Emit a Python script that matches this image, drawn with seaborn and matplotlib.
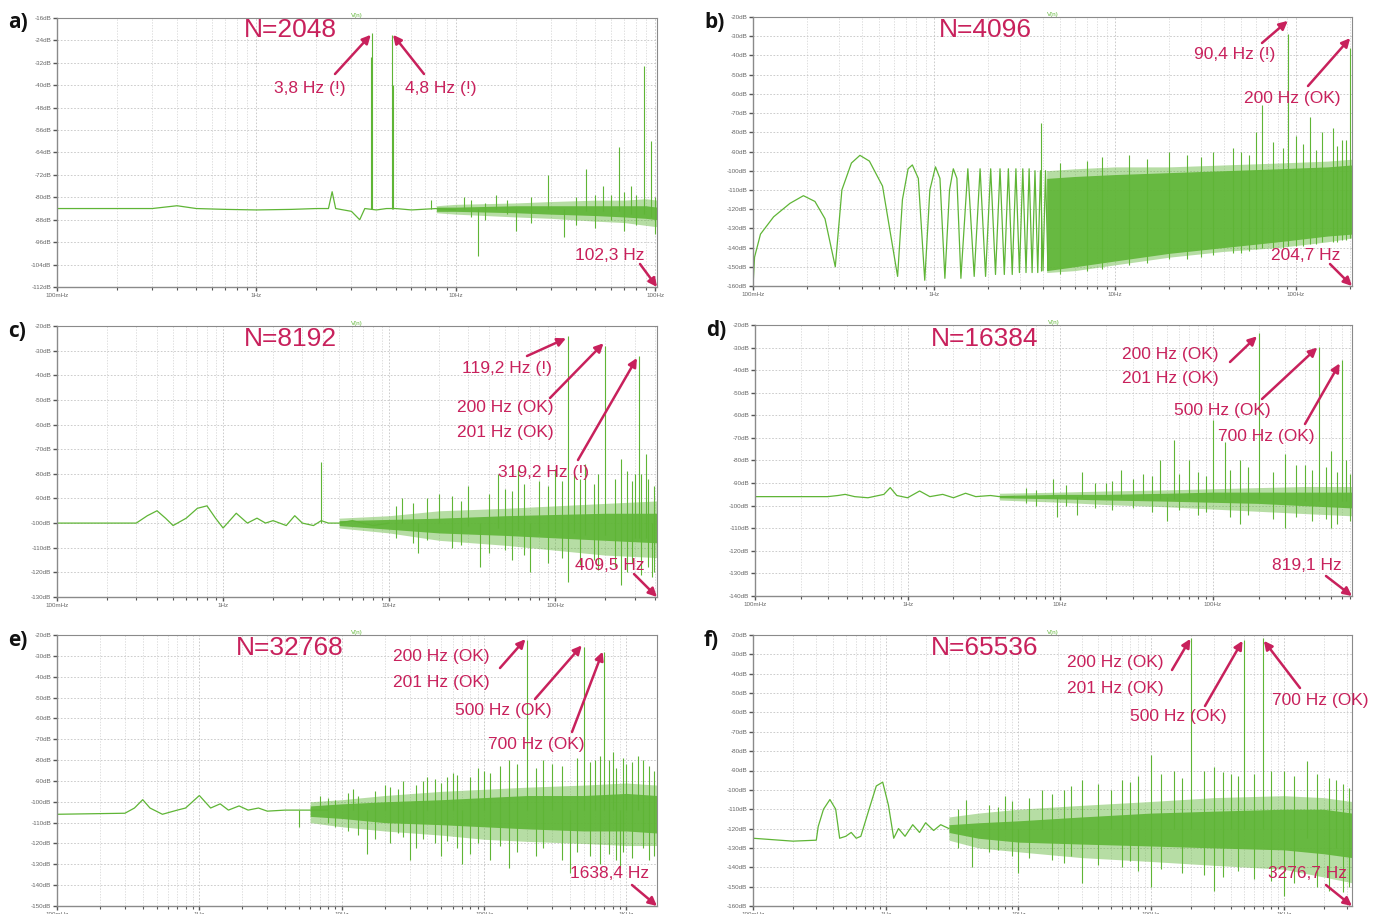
import matplotlib
matplotlib.use("Agg")
import matplotlib.pyplot as plt
import matplotlib.ticker as mticker
import seaborn as sns

W, H = 1378, 914
GREEN = "#5fb536"
RED = "#c8215c"

# ---------------- data ----------------
# a) N=2048
a_base_f = [0.1, 0.3, 0.4, 0.5, 0.7, 1.0, 1.5, 2.0, 2.3, 2.4, 2.5, 3.0, 3.3, 3.5, 4.0, 4.5, 5.0, 6.0, 8.0, 10.0]
a_base_db = [-84, -84, -83, -84, -84.3, -84.5, -84.3, -84, -84, -78, -84, -85, -88, -84, -84.5, -84, -84, -84.5, -84, -84.5]
a_band_f = [8, 10, 20, 30, 50, 70, 90, 102.3]
a_band_lo = [-85.5, -86, -87, -87.5, -88.5, -89, -90, -90.5]
a_band_hi = [-83, -82.5, -82, -81.5, -81, -81, -80.5, -81]
a_core_lo = [-85, -85, -85.5, -86, -86.5, -87, -87.5, -88]
a_core_hi = [-83.5, -83.5, -83, -83, -83, -83, -83, -83.5]
a_spk_f = [3.75, 3.8, 4.8, 4.85, 7.5, 11, 12, 13, 14, 16, 18, 20, 24, 29, 35, 40, 45, 50, 55, 60,
           66, 70, 76, 80, 88, 95, 100]
a_spk_top = [-30, -21.5, -22, -40, -81, -80, -81, -84, -82, -79, -81, -84, -80, -72, -84, -80, -70, -79, -76, -79,
             -62, -78, -76, -79, -33, -60, -80]
a_spk_bot = [-84, -84, -84, -84, -84, -84, -87, -101, -88, -84, -86, -92, -89, -84, -94, -90, -85, -91, -85, -88,
             -85, -92, -86, -90, -86, -87, -93]

# b) N=4096
b_base_f = [0.1, 0.102, 0.11, 0.13, 0.16, 0.19, 0.22, 0.25, 0.285, 0.31, 0.35, 0.39, 0.44, 0.52, 0.63,
            0.67, 0.72, 0.76, 0.82, 0.89, 0.95, 1.02, 1.08, 1.15, 1.22, 1.28, 1.34, 1.41, 1.54, 1.67,
            1.80, 1.93, 2.06, 2.19, 2.32, 2.45, 2.58, 2.71, 2.84, 2.97, 3.10, 3.23, 3.36, 3.49, 3.62,
            3.75, 3.88, 4.01, 4.14, 4.27]
b_base_db = [-160, -145, -133, -124, -117, -113, -116, -125, -150, -110, -96, -92, -95, -108, -155,
             -115, -99, -97, -104, -157, -110, -98, -104, -156, -110, -99, -104, -156, -99, -155,
             -99, -155, -99, -154, -99, -154, -99, -154, -99, -153, -99, -153, -99, -153, -100,
             -153, -100, -152, -100, -152]
b_band_f = [4.2, 6, 10, 20, 40, 80, 150, 204.7]
b_band_lo = [-153, -152, -149, -145, -142, -140, -137, -135]
b_band_hi = [-100, -99, -98, -98, -97, -96, -95, -94]
b_core_lo = [-152, -150, -147, -143, -140, -137, -134, -133]
b_core_hi = [-104, -103, -102, -101, -100, -99, -98, -97]
b_spk_f = [3.9, 5, 7, 8.5, 12, 15, 20, 25, 30, 35, 45, 50, 55, 60, 65, 75, 85, 90.4, 100, 110,
           120, 130, 140, 160, 170, 180, 190, 200]
b_spk_top = [-75, -96, -95, -93, -92, -94, -90, -92, -93, -90, -88, -90, -92, -80, -66, -85, -88, -29, -82, -86,
             -72, -89, -80, -78, -87, -84, -84, -36]
b_spk_bot = [-152, -154, -152, -151, -149, -148, -146, -146, -145, -144, -143, -143, -142, -141, -140, -140, -140, -139, -139, -139,
             -138, -138, -137, -137, -137, -136, -136, -135]

# c) N=8192
c_base_f = [0.1, 0.3, 0.35, 0.4, 0.45, 0.5, 0.6, 0.7, 0.8, 0.9, 1.0, 1.2, 1.4, 1.6, 1.8, 2.0,
            2.4, 2.7, 3.0, 3.5, 3.9, 4.3, 5, 6, 8, 10]
c_base_db = [-100, -100, -97, -95, -98, -101, -98, -94, -93, -98, -102, -96, -100, -98, -100, -99,
             -101, -97, -100, -101, -99, -100, -100, -99, -101, -100]
c_band_f = [5, 10, 20, 50, 100, 200, 409.5]
c_band_lo = [-102, -104, -107, -109, -111, -113, -114]
c_band_hi = [-98, -97, -95, -94, -93, -92, -91]
c_core_lo = [-101, -102.5, -104, -105, -106, -107, -108]
c_core_hi = [-99, -98.5, -98, -97, -96.5, -96, -96]
c_spk_f = [3.9, 11, 12, 14, 15, 17, 20, 24, 27, 30, 35, 40, 45, 50, 55, 60, 65, 70, 80, 90,
           100, 110, 119.2, 120, 130, 140, 150, 170, 180, 200, 230, 250, 270, 290, 300, 319.2, 330, 350, 360, 380, 395]
c_spk_top = [-75, -93, -90, -92, -100, -90, -88, -89, -91, -85, -100, -88, -80, -86, -87, -78, -84, -100, -83, -85,
             -78, -83, -24, -100, -80, -82, -76, -84, -80, -28, -82, -74, -79, -83, -80, -32, -80, -72, -82, -100, -85]
c_spk_bot = [-100, -106, -100, -108, -112, -107, -100, -110, -109, -101, -118, -112, -102, -111, -115, -103, -113, -120, -104, -116,
             -104, -114, -104, -124, -104, -117, -105, -115, -119, -105, -118, -125, -120, -116, -106, -106, -121, -106, -118, -122, -120]

# d) N=16384
d_base_f = [0.1, 0.3, 0.35, 0.39, 0.45, 0.55, 0.7, 0.77, 0.85, 1.0, 1.2, 1.4, 1.7, 2.0, 2.4, 2.8, 3.5, 4, 5]
d_base_db = [-96, -96, -95.5, -95, -96, -96.5, -95, -92, -95.5, -96.5, -93.5, -96, -95, -96.5, -94.5, -96, -95.5, -96, -96]
d_band_f = [4, 10, 20, 50, 100, 200, 400, 819.1]
d_band_lo = [-97.5, -98.5, -99.5, -100.5, -101.5, -102.5, -103.5, -104.5]
d_band_hi = [-94.5, -94, -93.5, -93, -92.5, -92, -91.5, -91.5]
d_core_lo = [-96.5, -97, -97.5, -98, -98.5, -99, -100, -101]
d_core_hi = [-95.5, -95, -95, -94.5, -94, -94, -94, -94]
d_spk_f = [6, 7, 9, 9.5, 11, 13, 14, 17, 20, 22, 25, 30, 35, 40, 45, 50, 56, 60, 70, 80,
           90, 100, 120, 130, 150, 170, 200, 250, 300, 350, 400, 450, 500, 550, 600, 650, 700, 750, 800]
d_spk_top = [-92, -93, -88, -96, -91, -96, -85, -90, -90, -89, -84, -88, -86, -87, -80, -96, -71, -86, -80, -85,
             -87, -62, -72, -84, -80, -83, -23.5, -85, -77, -82, -82, -84, -29.7, -83, -76, -85, -35.5, -80, -86]
d_spk_bot = [-99, -100, -96, -105, -100, -104, -96, -101, -96, -102, -96, -101, -97, -103, -97, -107, -97, -102, -97, -104,
             -103, -97, -97, -105, -108, -104, -97, -106, -110, -105, -98, -107, -98, -106, -110, -108, -98, -98, -107]

# e) N=32768
e_base_f = [0.1, 0.3, 0.35, 0.4, 0.45, 0.55, 0.7, 0.8, 1.0, 1.2, 1.4, 1.6, 1.9, 2.2, 2.6, 3, 4, 5, 6, 8]
e_base_db = [-106, -105.5, -103, -99, -103, -106, -104, -103, -97, -103, -101, -104, -102, -104, -103, -104.5, -104, -104, -104, -104]
e_band_f = [6, 10, 20, 50, 100, 200, 500, 1000, 1638.4]
e_band_lo = [-110, -112, -114, -116, -118, -119, -120, -121, -121]
e_band_hi = [-100, -99, -97, -95, -94, -93, -92, -91, -92]
e_core_lo = [-107, -108, -110, -111, -112, -113, -114, -114, -115]
e_core_hi = [-102, -101, -100, -99, -98, -97, -97, -96, -97]
e_spk_f = [5, 7, 8, 9, 11, 12, 13, 15, 17, 20, 22, 25, 27, 30, 33, 37, 40, 45, 50, 55,
           60, 65, 70, 80, 90, 100, 110, 130, 150, 170, 200, 230, 260, 300, 350, 400, 450, 500, 550, 600,
           650, 700, 750, 800, 850, 900, 950, 1000, 1100, 1200, 1300, 1450, 1550]
e_spk_top = [-104, -97, -98, -99, -96, -94, -97, -104, -95, -92, -93, -94, -90, -104, -92, -90, -88, -89, -91, -88,
             -86, -87, -104, -88, -84, -85, -86, -83, -80, -82, -22.4, -84, -80, -82, -83, -104, -79, -25.8, -81, -80,
             -78, -28, -80, -76, -84, -104, -79, -82, -81, -78, -80, -83, -85]
e_spk_bot = [-112, -104, -110, -112, -114, -104, -116, -125, -118, -104, -120, -115, -117, -128, -122, -118, -104, -120, -126, -119,
             -104, -122, -130, -125, -120, -104, -128, -121, -132, -124, -104, -126, -122, -104, -128, -134, -124, -104, -126, -104,
             -130, -104, -125, -104, -128, -132, -124, -104, -127, -104, -122, -128, -126]

# f) N=65536
f_base_f = [0.1, 0.2, 0.3, 0.31, 0.34, 0.38, 0.42, 0.45, 0.5, 0.55, 0.6, 0.65, 0.75, 0.85, 0.95, 1.05,
            1.15, 1.25, 1.4, 1.6, 1.8, 2.0, 2.3, 2.6, 3.0]
f_base_db = [-125, -126.5, -126, -119, -110, -105, -110, -125, -124, -122, -125, -124, -110, -98, -96, -108,
             -125, -120, -124, -118, -122, -117, -121, -118, -120]
f_band_f = [3, 5, 10, 30, 100, 300, 1000, 2000, 3276.7]
f_band_lo = [-126, -130, -132, -135, -137, -139, -141, -145, -148]
f_band_hi = [-114, -112, -110, -108, -106, -104, -103, -104, -106]
f_core_lo = [-122, -125, -127, -128, -129, -130, -131, -133, -135]
f_core_hi = [-118, -117, -116, -114, -112, -111, -110, -110, -112]
f_spk_f = [3.5, 4, 4.5, 6, 7, 8, 9, 10, 12, 15, 18, 22, 25, 30, 40, 50, 60, 70, 80, 100,
           120, 150, 170, 200, 250, 300, 350, 400, 450, 500, 600, 700, 800, 1000, 1200, 1500, 1800, 2200, 2500, 2800, 3100]
f_spk_top = [-110, -105, -120, -108, -109, -103, -106, -120, -104, -100, -102, -100, -98, -95, -97, -100, -95, -96, -93, -82,
             -92, -90, -94, -21.5, -90, -88, -91, -92, -93, -22.6, -92, -21.5, -90, -90, -93, -85, -92, -94, -95, -97, -99]
f_spk_bot = [-130, -120, -140, -132, -131, -120, -134, -143, -135, -120, -136, -138, -134, -148, -139, -120, -140, -137, -142, -150,
             -141, -120, -143, -120, -144, -152, -145, -120, -142, -120, -146, -120, -147, -155, -148, -125, -150, -152, -130, -153, -150]

panels = [
    dict(tag="a)", n="N=2048", box=(57, 18, 657, 287), xmax=102.3, ylim=(-112, -16), ystep=8,
         base=(a_base_f, a_base_db), band=(a_band_f, a_band_lo, a_band_hi, a_core_lo, a_core_hi),
         spk=(a_spk_f, a_spk_top, a_spk_bot), ntxt=(290, 30),
         texts=[("3,8 Hz (!)", 310, 88), ("4,8 Hz (!)", 441, 88), ("102,3 Hz", 610, 256)],
         arrows=[(335, 74, 3.75, -22), (424, 74, 4.85, -22), (640, 264, 102.3, -112)]),
    dict(tag="b)", n="N=4096", box=(753, 17, 1352, 286), xmax=204.7, ylim=(-160, -20), ystep=10,
         base=(b_base_f, b_base_db), band=(b_band_f, b_band_lo, b_band_hi, b_core_lo, b_core_hi),
         spk=(b_spk_f, b_spk_top, b_spk_bot), ntxt=(985, 30),
         texts=[("90,4 Hz (!)", 1235, 55), ("200 Hz (OK)", 1292, 98), ("204,7 Hz", 1306, 256)],
         arrows=[(1262, 43, 90.4, -22), (1308, 86, 200, -31), (1330, 264, 204.7, -160)]),
    dict(tag="c)", n="N=8192", box=(57, 326, 657, 597), xmax=409.5, ylim=(-130, -20), ystep=10,
         base=(c_base_f, c_base_db), band=(c_band_f, c_band_lo, c_band_hi, c_core_lo, c_core_hi),
         spk=(c_spk_f, c_spk_top, c_spk_bot), ntxt=(290, 339),
         texts=[("119,2 Hz (!)", 507, 368), ("200 Hz (OK)", 505, 408), ("201 Hz (OK)", 505, 433),
                ("319,2 Hz (!)", 544, 472), ("409,5 Hz", 610, 565)],
         arrows=[(527, 356, 116, -25), (550, 398, 195, -27), (578, 460, 310, -33), (634, 574, 409.5, -130)]),
    dict(tag="d)", n="N=16384", box=(755, 325, 1352, 596), xmax=819.1, ylim=(-140, -20), ystep=10,
         base=(d_base_f, d_base_db), band=(d_band_f, d_band_lo, d_band_hi, d_core_lo, d_core_hi),
         spk=(d_spk_f, d_spk_top, d_spk_bot), ntxt=(985, 339),
         texts=[("200 Hz (OK)", 1170, 355), ("201 Hz (OK)", 1170, 378), ("500 Hz (OK)", 1222, 411),
                ("700 Hz (OK)", 1266, 436), ("819,1 Hz", 1307, 565)],
         arrows=[(1230, 362, 195, -25), (1262, 399, 485, -30), (1305, 424, 680, -37), (1326, 576, 819.1, -140)]),
    dict(tag="e)", n="N=32768", box=(57, 635, 657, 906), xmax=1638.4, ylim=(-150, -20), ystep=10,
         base=(e_base_f, e_base_db), band=(e_band_f, e_band_lo, e_band_hi, e_core_lo, e_core_hi),
         spk=(e_spk_f, e_spk_top, e_spk_bot), ntxt=(290, 648),
         texts=[("200 Hz (OK)", 441, 657), ("201 Hz (OK)", 441, 682), ("500 Hz (OK)", 503, 710),
                ("700 Hz (OK)", 536, 744), ("1638,4 Hz", 610, 874)],
         arrows=[(500, 668, 195, -22), (535, 699, 485, -25), (572, 732, 680, -28), (632, 885, 1638.4, -150)]),
    dict(tag="f)", n="N=65536", box=(753, 635, 1352, 906), xmax=3276.7, ylim=(-160, -20), ystep=10,
         base=(f_base_f, f_base_db), band=(f_band_f, f_band_lo, f_band_hi, f_core_lo, f_core_hi),
         spk=(f_spk_f, f_spk_top, f_spk_bot), ntxt=(985, 648),
         texts=[("200 Hz (OK)", 1115, 663), ("201 Hz (OK)", 1115, 688), ("500 Hz (OK)", 1178, 716),
                ("700 Hz (OK)", 1320, 700), ("3276,7 Hz", 1307, 874)],
         arrows=[(1172, 670, 198, -22), (1205, 706, 490, -23), (1300, 688, 710, -23), (1326, 885, 3276.7, -160)]),
]

FREQ_LABELS = {0.1: "100mHz", 1: "1Hz", 10: "10Hz", 100: "100Hz", 1000: "1KHz"}

sns.set_style("white")
plt.rcParams["font.family"] = ["Liberation Sans", "DejaVu Sans"]

fig = plt.figure(figsize=(W / 100, H / 100), dpi=100)


def fx(x):
    return x / W


def fy(y):
    return 1 - y / H


for p in panels:
    l, t, r, b = p["box"]
    ax = fig.add_axes([fx(l), fy(b), (r - l) / W, (b - t) / H])
    ax.set_xscale("log")
    ax.set_xlim(0.1, p["xmax"])
    ylo, yhi = p["ylim"]
    ax.set_ylim(ylo, yhi)

    # grid
    ax.grid(which="major", axis="both", color="#c4c4c4", ls=(0, (2, 2)), lw=0.6)
    ax.grid(which="minor", axis="x", color="#d2d2d2", ls=(0, (2, 2)), lw=0.5)
    ax.set_axisbelow(True)

    # noise band: light outer envelope and dense core
    bf, blo, bhi, clo, chi = p["band"]
    ax.fill_between(bf, blo, bhi, color=GREEN, alpha=0.45, lw=0)
    ax.fill_between(bf, clo, chi, color=GREEN, alpha=0.9, lw=0)
    # spikes
    sf, stop, sbot = p["spk"]
    ax.vlines(sf, sbot, stop, color=GREEN, lw=0.8)
    # smooth part of the spectrum
    xf, yd = p["base"]
    sns.lineplot(x=xf, y=yd, ax=ax, color=GREEN, lw=0.9, sort=False, estimator=None)

    # ticks
    yt = list(range(ylo, yhi + 1, p["ystep"]))
    ax.set_yticks(yt)
    ax.set_yticklabels([f"{v}dB" for v in yt])
    xt = [v for v in FREQ_LABELS if v <= p["xmax"] * 1.001]
    ax.set_xticks(xt)
    ax.set_xticklabels([FREQ_LABELS[v] for v in xt])
    ax.xaxis.set_minor_locator(mticker.LogLocator(base=10, subs=range(2, 10)))
    ax.xaxis.set_minor_formatter(mticker.NullFormatter())
    ax.tick_params(axis="both", which="major", labelsize=4.5, labelcolor="#666666",
                   color="#555555", length=3, width=1, pad=1, direction="out",
                   left=True, bottom=True)
    ax.tick_params(axis="x", which="minor", color="#555555", length=2, width=0.8, bottom=True)
    for side, sp in ax.spines.items():
        sp.set_color("#8a8a8a")
        sp.set_linewidth(1.0 if side in ("left", "bottom") else 0.8)
    ax.set_xlabel("")
    ax.set_ylabel("")
    ax.set_title("V(n)", fontsize=4.5, color=GREEN, pad=1)

    # labels
    fig.text(fx(l - 49), fy(t + 5), p["tag"], fontsize=15, fontweight="bold",
             family=["Open Sans", "DejaVu Sans"], ha="left", va="center", color="#111111")
    fig.text(fx(p["ntxt"][0]), fy(p["ntxt"][1]), p["n"], fontsize=19, color=RED,
             ha="center", va="center")
    for txt, x, y in p["texts"]:
        fig.text(fx(x), fy(y), txt, fontsize=12.5, color=RED, ha="center", va="center")
    for tx, ty, hf, hd in p["arrows"]:
        ax.annotate("", xy=(hf, hd), xycoords="data", xytext=(fx(tx), fy(ty)),
                    textcoords="figure fraction", annotation_clip=False,
                    arrowprops=dict(arrowstyle="-|>,head_length=0.5,head_width=0.25",
                                    color=RED, lw=1.8, shrinkA=0, shrinkB=0))

fig.savefig("out.png", dpi=100)
